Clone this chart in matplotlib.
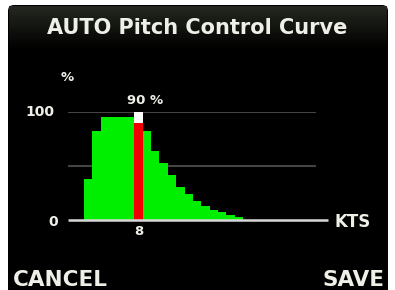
import numpy as np
import matplotlib.pyplot as plt
from matplotlib.patches import FancyBboxPatch

# data
speeds = list(range(2, 21))
pitch = [38, 82, 95, 95, 95, 95, 90, 82, 64, 53, 42, 31, 24, 18, 13, 9, 7, 4.5, 2.5]
selected_speed = 8
selected_value = 90
y_ticks = [0, 100]
grid_levels = [50, 100]
title = "AUTO Pitch Control Curve"

W, H = 395, 290
fig = plt.figure(figsize=(W / 100, H / 100), dpi=100)
fig.patch.set_facecolor("white")

# background panel in pixel coords
bg = fig.add_axes([0, 0, 1, 1])
bg.set_xlim(0, W)
bg.set_ylim(H, 0)
bg.axis("off")
panel = FancyBboxPatch((8, 5), 380, 300, boxstyle="round,pad=0,rounding_size=6",
                       fc="black", ec="none")
bg.add_patch(panel)
# header gradient
grad = np.linspace(1, 0, 50).reshape(-1, 1)
cmap = plt.matplotlib.colors.LinearSegmentedColormap.from_list("hdr", ["#000000", "#24281f"])
bg.imshow(grad, extent=(9, 387, 50, 6), cmap=cmap, aspect="auto", zorder=1)
bg.text(197, 28, title, color="#eef0e8", fontsize=15, fontweight="bold",
        ha="center", va="center", zorder=2)
bg.text(13, 280, "CANCEL", color="#eef0e8", fontsize=15.5, fontweight="bold",
        ha="left", va="center")
bg.text(385, 280, "SAVE", color="#eef0e8", fontsize=15.5, fontweight="bold",
        ha="right", va="center")

# chart axes: x pixel 68..328, y pixel 220 (0) .. 112 (100)
ax = fig.add_axes([68 / W, (H - 220) / H, 260 / W, 108 / H])
ax.set_xlim(-0.41, 30.62)
ax.set_ylim(0, 100)
ax.axis("off")

for g in grid_levels:
    ax.hlines(g, -0.41, 29.2, color="#444444", lw=1.5, zorder=1)
ax.hlines(0, -0.41, 30.62, color="#d8d8d8", lw=1.8, zorder=4, clip_on=False)

colors = ["#f00000" if s == selected_speed else "#00ee00" for s in speeds]
ax.bar(speeds, pitch, width=1.0, color=colors, zorder=2)
ax.bar([selected_speed], [100 - selected_value], bottom=[selected_value], width=1.0,
       color="white", zorder=2)

ax.text(selected_speed + 0.75, 111, f"{selected_value} %", color="#eef0e8", fontsize=9.5,
        fontweight="bold", ha="center", va="center", clip_on=False)
ax.text(selected_speed, -11, str(selected_speed), color="#eef0e8", fontsize=9.5,
        fontweight="bold", ha="center", va="center", clip_on=False)
ax.text(-2.0, 100, str(y_ticks[1]), color="#eef0e8", fontsize=10,
        fontweight="bold", ha="right", va="center", clip_on=False)
ax.text(-1.6, -2, str(y_ticks[0]), color="#eef0e8", fontsize=10,
        fontweight="bold", ha="right", va="center", clip_on=False)
ax.text(0.3, 132, "%", color="#eef0e8", fontsize=9.5,
        fontweight="bold", ha="right", va="center", clip_on=False)
ax.text(33.6, -2, "KTS", color="#eef0e8", fontsize=12,
        fontweight="bold", ha="center", va="center", clip_on=False)

fig.savefig("out.png", dpi=100, facecolor="white")
